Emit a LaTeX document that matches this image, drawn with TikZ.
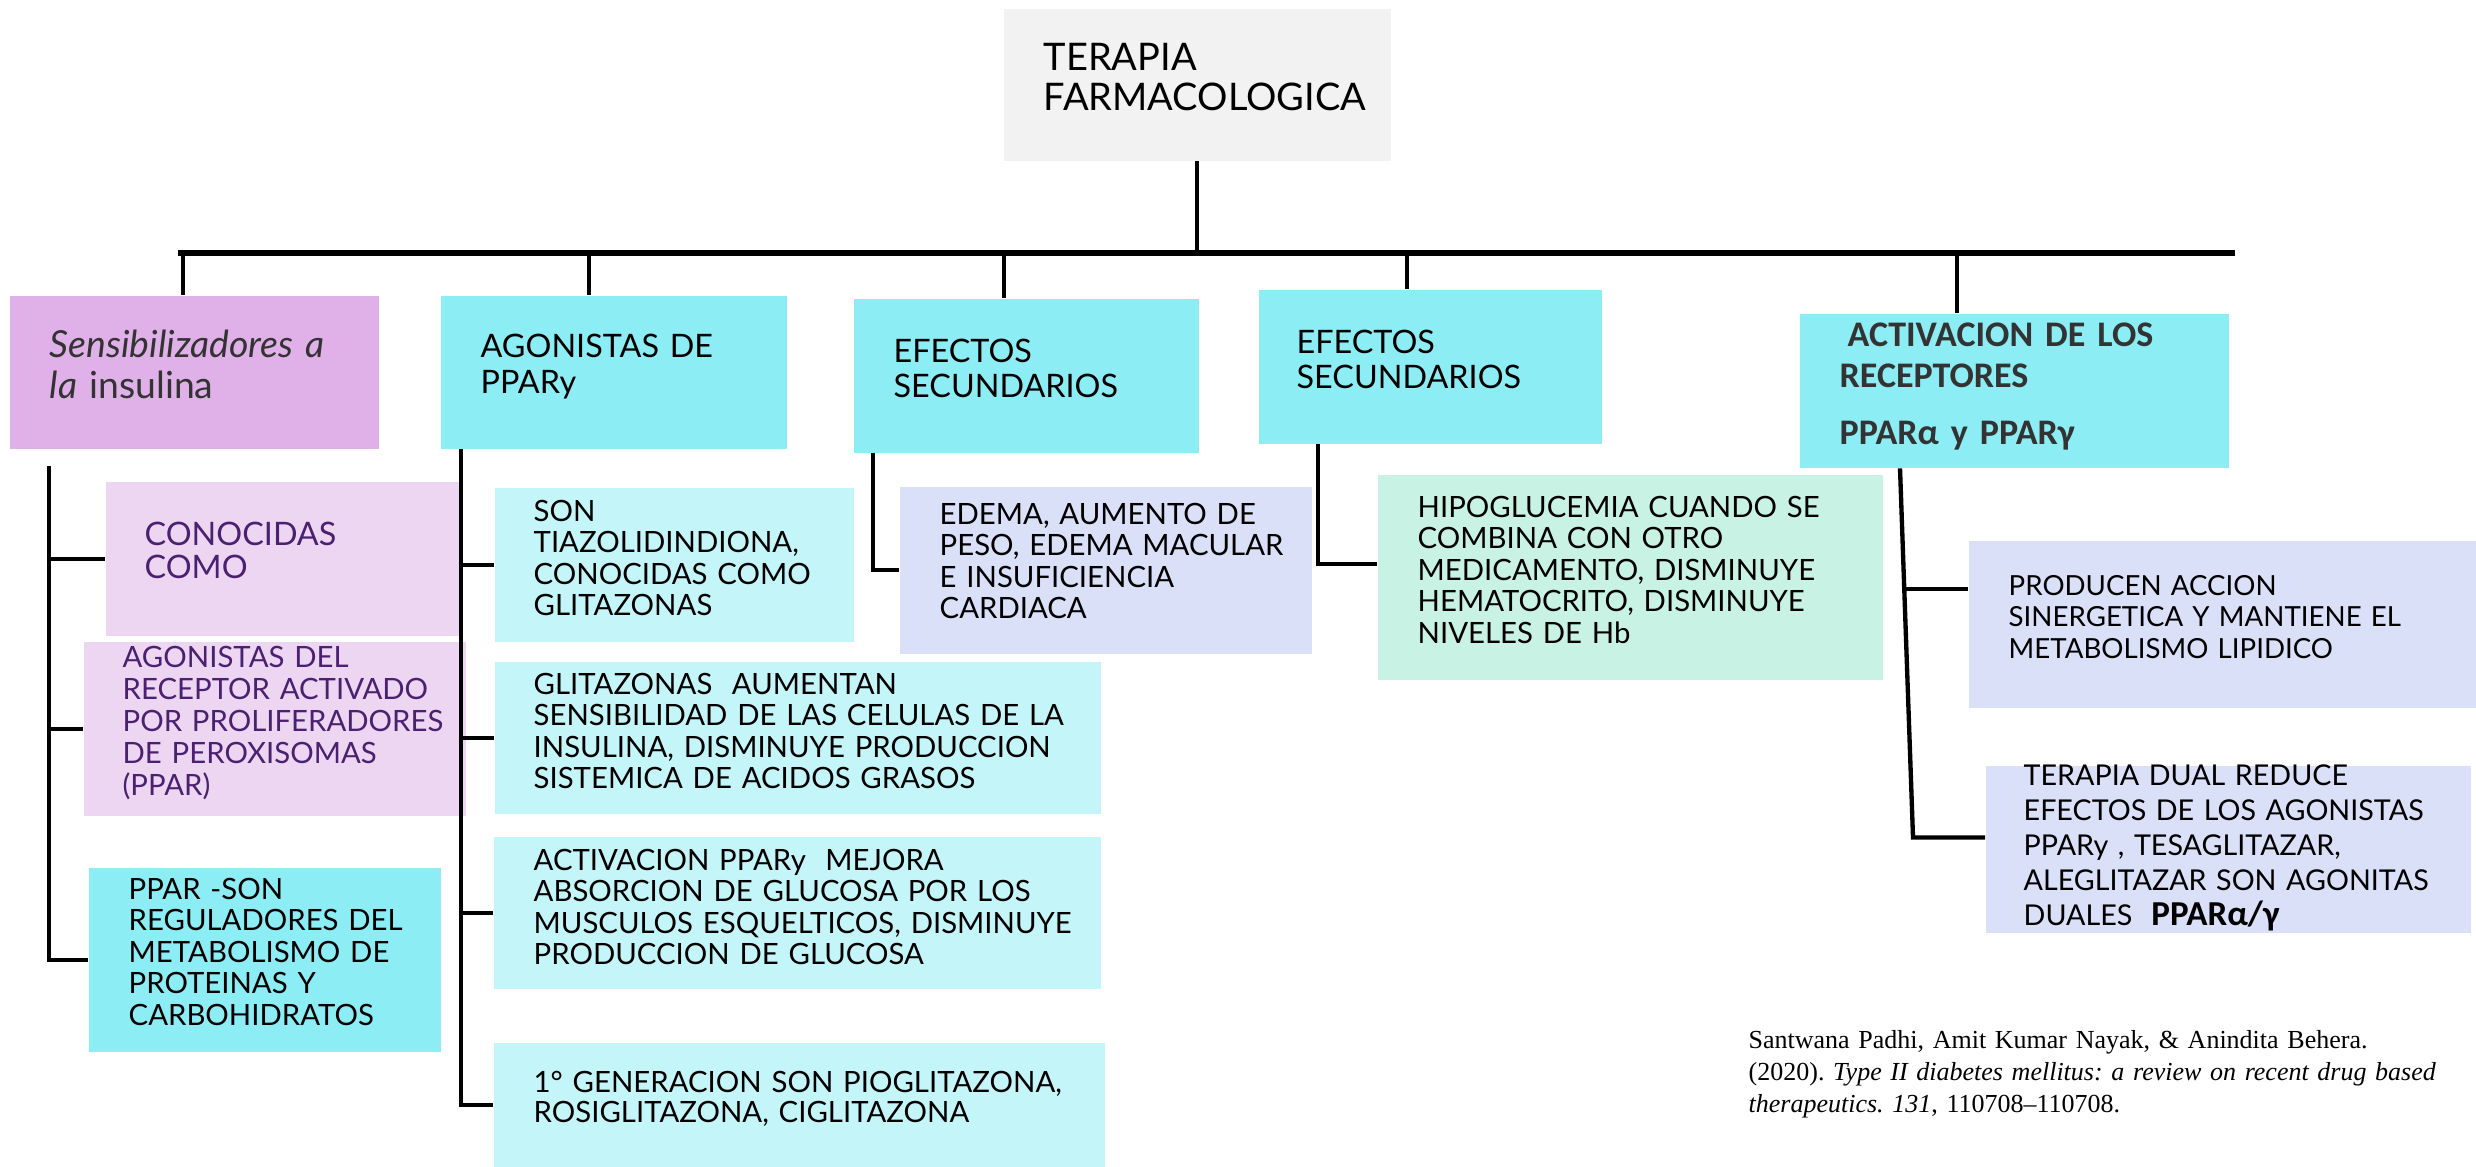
\documentclass[tikz,border=0pt]{standalone}
\usepackage{fontspec}
\setmainfont{Lato}
\newfontfamily\carlito{Carlito}
\newfontfamily\refserif[Ligatures=TeX]{Liberation Serif}
\usetikzlibrary{calc}
\definecolor{lila}{HTML}{E0B0E8}
\definecolor{lilaclaro}{HTML}{EDD6F2}
\definecolor{celeste}{HTML}{8CEDF5}
\definecolor{celesteclaro}{HTML}{C4F5F9}
\definecolor{lavanda}{HTML}{D9E0F8}
\definecolor{menta}{HTML}{C8F2E3}
\definecolor{grisraiz}{HTML}{F2F2F2}
\definecolor{morado}{HTML}{4B2070}
\definecolor{tinta}{HTML}{333333}
\frenchspacing
\tikzset{
  caja/.style={draw=none,anchor=north west,inner sep=0pt},
  texto/.style={anchor=base west,inner sep=0pt,text width=200pt,align=left,font=\fontsize{8.8}{9.45}\selectfont},
  titulo/.style={texto,font=\fontsize{9.7}{10.5}\selectfont},
  linea/.style={line width=1.3pt},
}
\begin{document}
\begin{tikzpicture}[x=0.3pt,y=-0.3pt]
\useasboundingbox (0,0) rectangle (2476,1166);
% raiz
\node[caja,fill=grisraiz,minimum width=116.1pt,minimum height=45.6pt] (raiz) at (1003,8) {};
\node[texto,font=\fontsize{11.4}{12}\selectfont] (raizT) at (1043,70) {TERAPIA\\FARMACOLOGICA};
% primer nivel
\node[caja,fill=lila,minimum width=110.7pt,minimum height=45.9pt] (sens) at (9,295) {};
\node[texto,text=tinta,font=\fontsize{11.2}{12.3}\selectfont] (sensT) at (49,357) {\textit{Sensibilizadores a}\\\textit{la} insulina};
\node[caja,fill=celeste,minimum width=103.8pt,minimum height=45.9pt] (agon) at (440,295) {};
\node[titulo,font=\fontsize{9.7}{10.8}\selectfont] (agonT) at (480,357) {AGONISTAS DE\\PPARy};
\node[caja,fill=celeste,minimum width=103.5pt,minimum height=46.2pt] (efA) at (853,298) {};
\node[titulo] (efAT) at (893,362) {EFECTOS\\SECUNDARIOS};
\node[caja,fill=celeste,minimum width=102.9pt,minimum height=46.2pt] (efB) at (1258,289) {};
\node[titulo] (efBT) at (1296,353) {EFECTOS\\SECUNDARIOS};
\node[caja,fill=celeste,minimum width=128.7pt,minimum height=46.2pt] (recep) at (1799,313) {};
\node[texto,text=tinta,font=\carlito\bfseries\fontsize{10.8}{12.3}\selectfont] (recepT) at (1839,346) {\hspace*{2.4pt}ACTIVACION DE LOS\\RECEPTORES\\[4.8pt]PPARα y PPARγ};
% sensibilizadores
\node[caja,fill=lilaclaro,minimum width=106.2pt,minimum height=46.2pt] (conoc) at (105,481) {};
\node[texto,text=morado,font=\fontsize{9.7}{9.9}\selectfont] (conocT) at (144,545) {CONOCIDAS\\COMO};
\node[caja,fill=lilaclaro,minimum width=114.6pt,minimum height=52.2pt] (agdel) at (83,641) {};
\node[texto,text=morado,font=\fontsize{8.8}{9.6}\selectfont] (agdelT) at (122,667) {AGONISTAS DEL\\RECEPTOR ACTIVADO\\POR PROLIFERADORES\\DE PEROXISOMAS\\(PPAR)};
\node[caja,fill=celeste,minimum width=105.6pt,minimum height=55.2pt] (pparson) at (88,867) {};
\node[texto] (pparsonT) at (128,899) {PPAR -SON\\REGULADORES DEL\\METABOLISMO DE\\PROTEINAS Y\\CARBOHIDRATOS};
% agonistas
\node[caja,fill=celesteclaro,minimum width=107.7pt,minimum height=46.2pt] (son) at (494,487) {};
\node[texto] (sonT) at (533,521) {SON\\TIAZOLIDINDIONA,\\CONOCIDAS COMO\\GLITAZONAS};
\node[caja,fill=celesteclaro,minimum width=181.8pt,minimum height=45.6pt] (glit) at (494,661) {};
\node[texto] (glitT) at (533,694) {GLITAZONAS\ \ AUMENTAN\\SENSIBILIDAD DE LAS CELULAS DE LA\\INSULINA, DISMINUYE PRODUCCION\\SISTEMICA DE ACIDOS GRASOS};
\node[caja,fill=celesteclaro,minimum width=182.1pt,minimum height=45.6pt] (actp) at (493,836) {};
\node[texto] (actpT) at (533,870) {ACTIVACION PPARy\ \ MEJORA\\ABSORCION DE GLUCOSA POR LOS\\MUSCULOS ESQUELTICOS, DISMINUYE\\PRODUCCION DE GLUCOSA};
\node[caja,fill=celesteclaro,minimum width=183.3pt,minimum height=37.2pt] (gen) at (493,1042) {};
\node[texto,font=\fontsize{8.8}{9}\selectfont] (genT) at (533,1092) {1° GENERACION SON PIOGLITAZONA,\\ROSIGLITAZONA, CIGLITAZONA};
% efectos secundarios
\node[caja,fill=lavanda,minimum width=123.6pt,minimum height=50.1pt] (edema) at (899,486) {};
\node[texto] (edemaT) at (939,524) {EDEMA, AUMENTO DE\\PESO, EDEMA MACULAR\\E INSUFICIENCIA\\CARDIACA};
\node[caja,fill=menta,minimum width=151.5pt,minimum height=61.5pt] (hipo) at (1377,474) {};
\node[texto] (hipoT) at (1417,517) {HIPOGLUCEMIA CUANDO SE\\COMBINA CON OTRO\\MEDICAMENTO, DISMINUYE\\HEMATOCRITO, DISMINUYE\\NIVELES DE Hb};
% receptores
\node[caja,fill=lavanda,minimum width=152.4pt,minimum height=50.1pt] (prod) at (1968,540) {};
\node[texto,font=\fontsize{8.3}{9.45}\selectfont] (prodT) at (2008,595) {PRODUCEN ACCION\\SINERGETICA Y MANTIENE EL\\METABOLISMO LIPIDICO};
\node[caja,fill=lavanda,minimum width=145.5pt,minimum height=50.1pt] (dual) at (1985,765) {};
\node[texto,font=\fontsize{8.6}{10.5}\selectfont] (dualT) at (2023,785) {TERAPIA DUAL REDUCE\\EFECTOS DE LOS AGONISTAS\\PPARy , TESAGLITAZAR,\\ALEGLITAZAR SON AGONITAS\\DUALES\ \ {\carlito\bfseries\fontsize{10.5}{10.5}\selectfont PPARα/γ}};
% referencia
\node[texto,text width=260pt,font=\refserif\fontsize{7.8}{9.6}\selectfont] (cita) at (1748,1048) {Santwana Padhi, Amit Kumar Nayak, \& Anindita Behera.\\(2020). \textit{Type II diabetes mellitus: a review on recent drug based}\\\textit{therapeutics. 131}, 110708--110708.};
% conectores
\coordinate (busL) at (178,253);
\coordinate (busR) at (2235,253);
\draw[line width=1.8pt] (busL) -- (busR);
\draw[linea] (raiz.south) -- (raiz.south |- busL);
\draw[linea] ([xshift=-3.45pt]sens.north) -- ([xshift=-3.45pt]sens.north |- busL);
\draw[linea] ([xshift=-7.5pt]agon.north) -- ([xshift=-7.5pt]agon.north |- busL);
\draw[linea] ([xshift=-6.75pt]efA.north) -- ([xshift=-6.75pt]efA.north |- busL);
\draw[linea] ([xshift=-7pt]efB.north) -- ([xshift=-7pt]efB.north |- busL);
\draw[linea] ([xshift=-17.25pt]recep.north) -- ([xshift=-17.25pt]recep.north |- busL);
\coordinate (spS) at ([xshift=12pt,yshift=-5.1pt]sens.south west);
\draw[linea] (spS) |- (pparson.west);
\draw[linea] (spS |- conoc.west) -- (conoc.west);
\draw[linea] (spS |- agdel.west) -- (agdel.west);
\coordinate (spG) at ([xshift=6.3pt]agon.south west);
\draw[linea] (spG) |- (gen.west);
\draw[linea] (spG |- son.west) -- (son.west);
\draw[linea] (spG |- glit.west) -- (glit.west);
\draw[linea] (spG |- actp.west) -- (actp.west);
\coordinate (spE) at ([xshift=6pt]efA.south west);
\draw[linea] (spE) |- (edema.west);
\coordinate (spH) at ([xshift=18pt]efB.south west);
\draw[linea] (spH) |- ([yshift=4pt]hipo.west);
\coordinate (spR) at ([xshift=30.3pt]recep.south west);
\coordinate (spR2) at ([xshift=-21.6pt,yshift=3.5pt]dual.west);
\draw[linea] (spR) -- (spR2) -- (spR2 -| dual.west);
\coordinate (spRm) at ($(spR)!0.327!(spR2)$);
\draw[linea] (spRm) -- (spRm -| prod.west);
\end{tikzpicture}
\end{document}
